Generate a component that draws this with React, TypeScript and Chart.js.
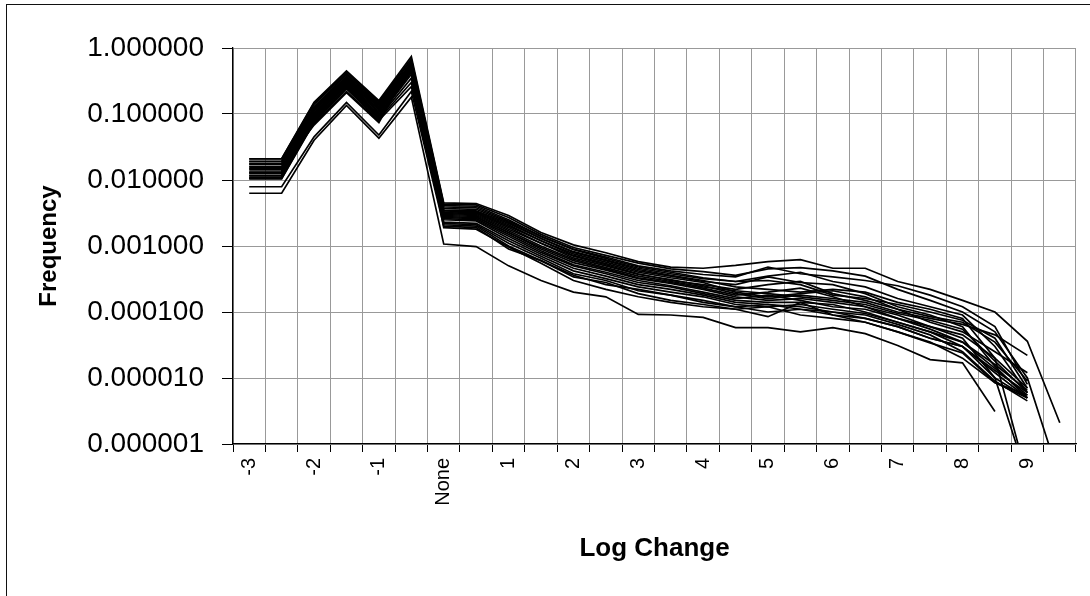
import React, { useEffect, useRef } from 'react';
import { Chart, registerables } from 'chart.js';

Chart.register(...registerables);

const categories = ['-3', '-2.5', '-2', '-1.5', '-1', '-0.5', 'None', '0.5', '1', '1.5', '2', '2.5', '3', '3.5', '4', '4.5', '5', '5.5', '6', '6.5', '7', '7.5', '8', '8.5', '9', '9.5'];
const tickLabels = ['-3', '', '-2', '', '-1', '', 'None', '', '1', '', '2', '', '3', '', '4', '', '5', '', '6', '', '7', '', '8', '', '9', ''];
const yTicks = [1, 0.1, 0.01, 0.001, 0.0001, 0.00001, 0.000001];

const s01 = [0.021, 0.021, 0.15, 0.45, 0.16, 0.74, 0.0045, 0.0044, 0.0029, 0.0016, 0.00104, 0.00079, 0.00058, 0.00048, 0.00046, 0.00051, 0.00058, 0.00062, 0.00046, 0.00046, 0.00029, 0.00022, 0.00015, 0.0001, 3.6e-5, 2.1e-6];
const s02 = [0.0208, 0.0208, 0.145, 0.43, 0.155, 0.68, 0.0043, 0.0042, 0.0027, 0.0015, 0.00095, 0.00072, 0.00055, 0.00045, 0.00041, 0.00036, 0.00045, 0.00047, 0.00042, 0.00035, 0.00022, 0.00015, 0.0001, 5e-5, 1e-5, 3e-7];
const s03 = [0.0192, 0.0192, 0.14, 0.41, 0.15, 0.64, 0.0041, 0.004, 0.0025, 0.0014, 0.0009, 0.00068, 0.0005, 0.00042, 0.00037, 0.00034, 0.00048, 0.00038, 0.00034, 0.0003, 0.00025, 0.00018, 0.00012, 6e-5, 8e-6, null];
const s04 = [0.019, 0.019, 0.13, 0.39, 0.145, 0.6, 0.0039, 0.0038, 0.0024, 0.0014, 0.00088, 0.00065, 0.00048, 0.0004, 0.00033, 0.00029, 0.00035, 0.0004, 0.00029, 0.00024, 0.00016, 0.00012, 9e-5, 3e-5, 6e-6, null];
const s05 = [0.0176, 0.0176, 0.125, 0.37, 0.14, 0.58, 0.0037, 0.0036, 0.0023, 0.0013, 0.00082, 0.00062, 0.00046, 0.00038, 0.00032, 0.00029, 0.0003, 0.00026, 0.00018, 0.00016, 0.00013, 0.0001, 7.5e-5, 4e-5, 7e-6, null];
const s06 = [0.0174, 0.0174, 0.12, 0.36, 0.135, 0.56, 0.0035, 0.0034, 0.0022, 0.0013, 0.0008, 0.0006, 0.00044, 0.00036, 0.0003, 0.00024, 0.00022, 0.0002, 0.00022, 0.0002, 0.00014, 0.00011, 8e-5, 2e-5, 3e-7, null];
const s07 = [0.0161, 0.0161, 0.115, 0.35, 0.13, 0.55, 0.0034, 0.0033, 0.0021, 0.0012, 0.00076, 0.00057, 0.00042, 0.00035, 0.00029, 0.00026, 0.00034, 0.00028, 0.00026, 0.00019, 0.00012, 9e-5, 6e-5, 1.5e-5, 5e-6, null];
const s08 = [0.0148, 0.0148, 0.11, 0.34, 0.125, 0.53, 0.0033, 0.0032, 0.002, 0.0012, 0.00072, 0.00054, 0.0004, 0.00033, 0.00028, 0.0002, 0.00017, 0.00019, 0.00021, 0.00017, 0.00011, 8.5e-5, 7e-5, 3.5e-5, 9e-6, null];
const s09 = [0.0146, 0.0146, 0.105, 0.33, 0.12, 0.52, 0.0032, 0.0031, 0.0019, 0.0011, 0.0007, 0.00052, 0.00038, 0.0003, 0.00026, 0.00022, 0.00026, 0.00029, 0.00019, 0.00015, 0.00011, 7e-5, 5e-5, 2.5e-5, 1.2e-5, null];
const s10 = [0.0137, 0.0137, 0.1, 0.32, 0.115, 0.5, 0.0031, 0.003, 0.0018, 0.0011, 0.00066, 0.0005, 0.00037, 0.00031, 0.00025, 0.00019, 0.00016, 0.00018, 0.00016, 0.00014, 0.0001, 8e-5, 6.5e-5, 4.5e-5, 2.2e-5, null];
const s11 = [0.0128, 0.0128, 0.097, 0.31, 0.11, 0.48, 0.003, 0.0029, 0.0017, 0.001, 0.00063, 0.00047, 0.00035, 0.00029, 0.00024, 0.00021, 0.00019, 0.00017, 0.00015, 0.00013, 9.5e-5, 7.5e-5, 5.5e-5, 1.8e-5, 6e-6, null];
const s12 = [0.0126, 0.0126, 0.093, 0.3, 0.105, 0.47, 0.0029, 0.0028, 0.0016, 0.00095, 0.0006, 0.00045, 0.00033, 0.00028, 0.00023, 0.00018, 0.0002, 0.00023, 0.00017, 0.00012, 9e-5, 6e-5, 4e-5, 1e-5, 3e-7, null];
const s13 = [0.0118, 0.0118, 0.09, 0.29, 0.1, 0.45, 0.0028, 0.0027, 0.0016, 0.0009, 0.00056, 0.00043, 0.00032, 0.00027, 0.00022, 0.00017, 0.00015, 0.00016, 0.00014, 0.00012, 8e-5, 5.5e-5, 3.5e-5, 1.4e-5, 5.5e-6, null];
const s14 = [0.0116, 0.0116, 0.087, 0.28, 0.096, 0.43, 0.0027, 0.0026, 0.0015, 0.00085, 0.00052, 0.0004, 0.0003, 0.00025, 0.0002, 0.00016, 0.00018, 0.00015, 0.00012, 0.00011, 8e-5, 6e-5, 4.5e-5, 2e-5, 7e-6, null];
const s15 = [0.0111, 0.0111, 0.083, 0.27, 0.092, 0.4, 0.0026, 0.0025, 0.0014, 0.0008, 0.0005, 0.00038, 0.00028, 0.00024, 0.00019, 0.00015, 0.00014, 0.00014, 0.00013, 0.0001, 7e-5, 5e-5, 3e-5, 1.2e-5, 5e-6, null];
const s16 = [0.0109, 0.0109, 0.08, 0.26, 0.088, 0.35, 0.0025, 0.0024, 0.0013, 0.00075, 0.00046, 0.00035, 0.00026, 0.00022, 0.00018, 0.00014, 0.00013, 0.00012, 0.0001, 9e-5, 6.5e-5, 4.5e-5, 2.5e-5, 9e-6, 4.5e-6, null];
const s17 = [0.0106, 0.0106, 0.077, 0.25, 0.084, 0.3, 0.0023, 0.0022, 0.0012, 0.0007, 0.00042, 0.00032, 0.00024, 0.0002, 0.00017, 0.00013, 0.00012, 0.00013, 0.00011, 9.5e-5, 7e-5, 5e-5, 3.5e-5, 1.6e-5, 6.5e-6, null];
const s18 = [0.0104, 0.0104, 0.074, 0.24, 0.08, 0.26, 0.0022, 0.0021, 0.0011, 0.00065, 0.00038, 0.0003, 0.00021, 0.00018, 0.00015, 0.00012, 0.0001, 0.00011, 9e-5, 8e-5, 6e-5, 4e-5, 3e-5, 1e-5, 5e-6, null];
const s19 = [0.0131, 0.0131, 0.071, 0.22, 0.077, 0.62, 0.0021, 0.002, 0.001, 0.0006, 0.00034, 0.00028, 0.00019, 0.00015, 0.00013, 0.00011, 0.00012, 9e-5, 8e-5, 7e-5, 5e-5, 3.5e-5, 2e-5, 8.5e-6, 5.5e-6, null];
const s20 = [0.0157, 0.0157, 0.068, 0.21, 0.074, 0.57, 0.0019, 0.0018, 0.00097, 0.00055, 0.0003, 0.00022, 0.00017, 0.00014, 0.00012, 0.00011, 8.5e-5, 0.00014, 9e-5, 7e-5, 5e-5, 3.4e-5, 2.4e-5, 8.5e-6, 5e-6, null];
const s21 = [0.0079, 0.0079, 0.045, 0.15, 0.048, 0.22, 0.002, 0.0019, 0.0009, 0.0006, 0.00036, 0.00026, 0.00022, 0.00018, 0.00014, 0.00012, 0.00013, 0.00011, 0.0001, 8e-5, 6e-5, 4e-5, 3e-5, 1.3e-5, 6e-6, null];
const s22 = [0.0063, 0.0063, 0.04, 0.135, 0.043, 0.18, 0.00107, 0.00098, 0.0005, 0.0003, 0.0002, 0.00017, 9.2e-5, 9e-5, 8.3e-5, 5.8e-5, 5.8e-5, 5e-5, 5.8e-5, 4.7e-5, 3.1e-5, 1.9e-5, 1.7e-5, 3.1e-6, null, null];

const seriesList = [s01, s02, s03, s04, s05, s06, s07, s08, s09, s10, s11, s12, s13, s14, s15, s16, s17, s18, s19, s20, s21, s22];

const FONT = "'Liberation Sans', Arial, sans-serif";

export default function App() {
  const canvasRef = useRef<HTMLCanvasElement | null>(null);

  useEffect(() => {
    if (!canvasRef.current) return;
    const chart = new Chart(canvasRef.current, {
      type: 'line',
      data: {
        labels: categories,
        datasets: seriesList.map((d, i) => ({
          label: 'Series ' + (i + 1),
          data: d,
          borderColor: '#000000',
          backgroundColor: '#000000',
          borderWidth: 1.7,
          pointRadius: 0,
          pointHoverRadius: 0,
          fill: false,
          tension: 0,
          spanGaps: false,
        })),
      },
      options: {
        animation: false,
        responsive: false,
        devicePixelRatio: 1,
        layout: { padding: { top: 48, right: 11, left: 0, bottom: 0 } },
        plugins: { legend: { display: false }, tooltip: { enabled: false } },
        scales: {
          x: {
            type: 'category',
            offset: true,
            grid: { offset: true, color: '#999999', lineWidth: 1, tickColor: '#000000', tickLength: 8, drawTicks: true },
            border: { display: true, color: '#000000', width: 1.3 },
            ticks: {
              autoSkip: false,
              maxRotation: 90,
              minRotation: 90,
              padding: 6,
              color: '#000000',
              font: { family: FONT, size: 20 },
              callback: (_v: any, i: number) => tickLabels[i],
            },
            title: {
              display: true,
              text: 'Log Change',
              color: '#000000',
              font: { family: FONT, size: 26, weight: 'bold' },
              padding: { top: 0, bottom: 32 },
            },
            afterFit: (s: any) => { s.height = 152; },
          },
          y: {
            type: 'logarithmic',
            min: 0.000001,
            max: 1,
            afterBuildTicks: (s: any) => { s.ticks = yTicks.map((v) => ({ value: v })); },
            grid: { color: '#999999', lineWidth: 1, tickColor: '#000000', tickLength: 11, drawTicks: true },
            border: { display: true, color: '#000000', width: 1.3 },
            ticks: {
              padding: 18,
              color: '#000000',
              font: { family: FONT, size: 28 },
              callback: (v: any) => Number(v).toFixed(6),
            },
            title: {
              display: true,
              text: 'Frequency',
              color: '#000000',
              font: { family: FONT, size: 24, weight: 'bold' },
              padding: { top: 35, bottom: 0 },
            },
            afterFit: (s: any) => { s.width = 233; },
          },
        },
      },
    });
    return () => chart.destroy();
  }, []);

  return (
    <div style={{ position: 'absolute', left: 0, top: 0, width: 1090, height: 596, overflow: 'hidden', background: '#ffffff' }}>
      <div style={{ position: 'absolute', left: 6, top: 4, width: 1200, height: 700, borderLeft: '1.5px solid #111', borderTop: '1.5px solid #111' }} />
      <canvas ref={canvasRef} width={1090} height={596} style={{ position: 'absolute', left: 0, top: 0 }} />
    </div>
  );
}
